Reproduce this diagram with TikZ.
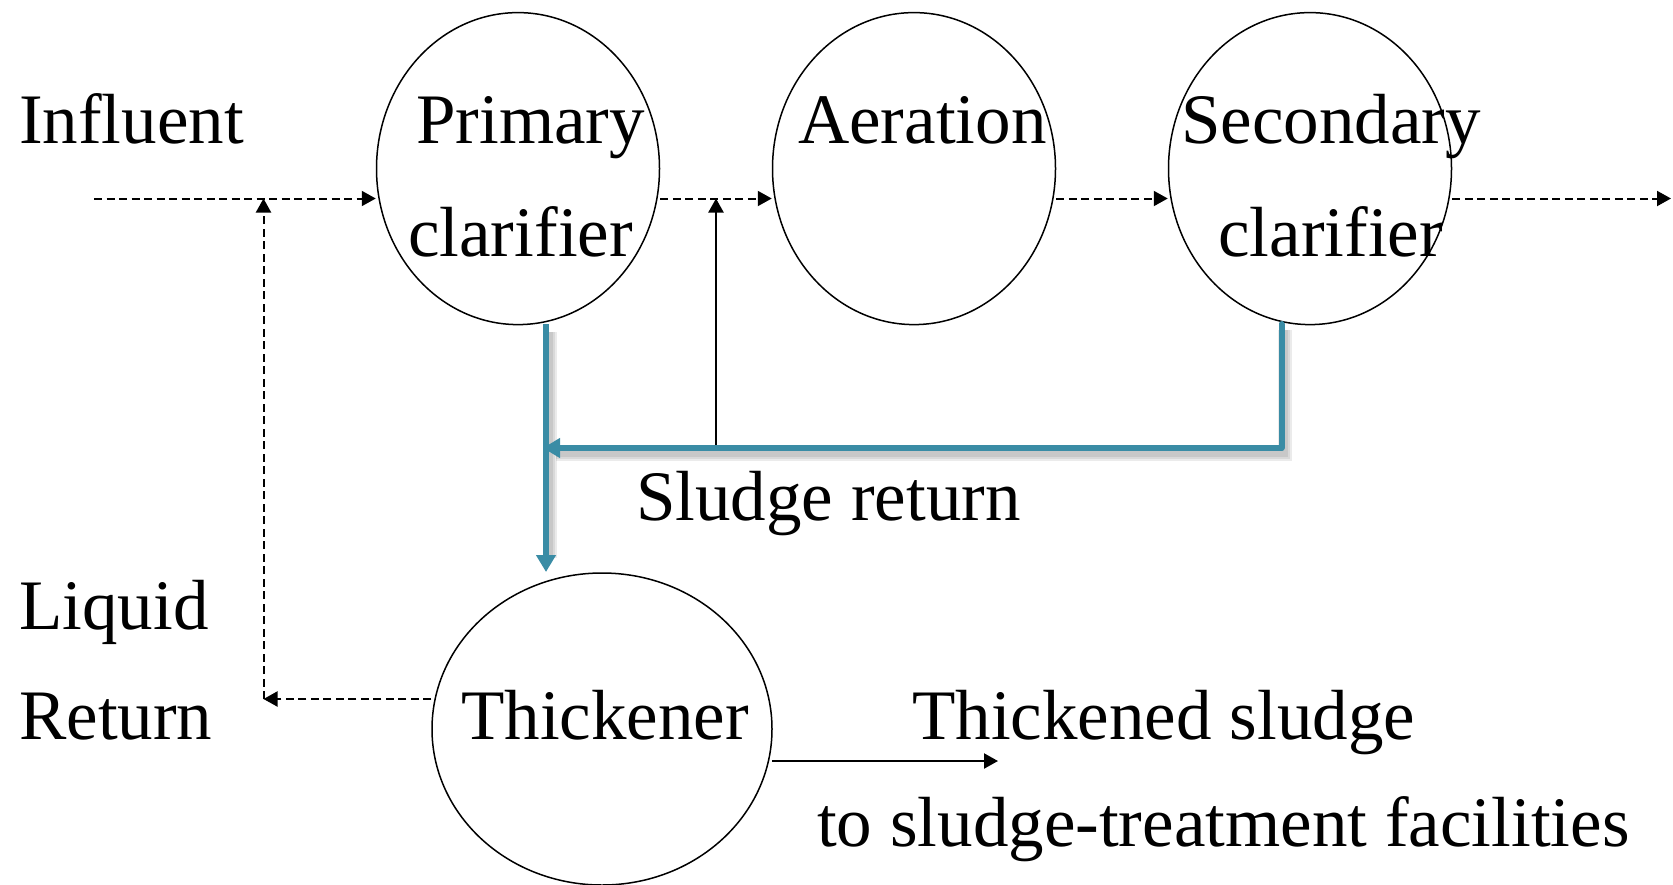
\documentclass[tikz,border=0pt]{standalone}
\usepackage{fontspec}
\setmainfont{Liberation Serif}
\usetikzlibrary{shapes.geometric,arrows.meta}
\definecolor{sludgeblue}{RGB}{58,140,165}
\tikzset{
  unit/.style={draw=black, line width=1.5pt, ellipse, inner sep=0pt},
  lbl/.style={anchor=base west, inner sep=0pt, font=\fontsize{71}{85}\selectfont},
  tip/.style={-{Triangle[length=14pt,width=15pt]}},
  flow/.style={tip, line width=2pt, dash pattern=on 8pt off 4.5pt},
  solidflow/.style={tip, line width=2.2pt},
  blueline/.style={draw=sludgeblue, line width=6pt},
  bluetip/.style={-{Triangle[length=17pt,width=19pt]}},
  blueshadow/.style={draw=black, line width=9pt, opacity=0.08}
}
\begin{document}
\begin{tikzpicture}[x=1pt,y=-1pt]
\useasboundingbox (0,0) rectangle (1673,884);
% units
\node[unit, minimum width=283pt, minimum height=312pt] (prim) at (518,168.6) {};
\node[unit, minimum width=283pt, minimum height=312pt] (aer) at (914,168.6) {};
\node[unit, minimum width=283pt, minimum height=312pt] (sec) at (1310,168.6) {};
\node[unit, minimum width=340pt, minimum height=312pt] (thk) at (602,729) {};
% coordinates
\coordinate (inf) at (94,198.5);
\coordinate (lrtop) at (263.5,198.5);
\coordinate (lrcorner) at (263.5,699);
\coordinate (sartop) at (716,198.5);
\coordinate (sarbot) at (716,448);
\coordinate (pbot) at (546,324);
\coordinate (tktop) at (546,572);
\coordinate (sbot) at (1281.5,324);
\coordinate (scorner) at (1281.5,448);
\coordinate (jn) at (546,448);
\coordinate (outend) at (1671,198.5);
\coordinate (tsstart) at (772,761);
\coordinate (tsend) at (998,761);
% main flow
\draw[flow] (inf) -- (inf -| prim.west);
\draw[flow] (inf -| prim.east) -- (inf -| aer.west);
\draw[flow] (inf -| aer.east) -- (inf -| sec.west);
\draw[flow] (inf -| sec.east) -- (outend);
% liquid return
\draw[flow] (lrcorner -| thk.west) -- (lrcorner);
\draw[flow] (lrcorner) -- (lrtop);
% sludge return to aeration
\draw[solidflow] (sarbot) -- (sartop);
% blue sludge lines with soft shadow
\foreach \w in {14,10,6}{
  \draw[blueshadow, line width=\w pt] ([shift={(3,6)}]sbot) -- ([shift={(3,6)}]scorner) -- ([shift={(10,6)}]jn);
  \draw[blueshadow, line width=\w pt] ([shift={(4,8)}]pbot) -- ([shift={(4,-14)}]tktop);
}
\draw[blueline, line cap=round] (sbot) -- (scorner);
\draw[blueline, bluetip] (scorner) -- ([xshift=-3pt]jn);
\draw[blueline, bluetip] (pbot) -- (tktop);
% thickened sludge out
\draw[solidflow] (tsstart) -- (tsend);
% labels
\node[lbl] (tinf) at (19,143) {Influent};
\node[lbl] (tprim1) at (416,143) {Primary};
\node[lbl] (tprim2) at (408,256) {clarifier};
\node[lbl] (taer) at (798,143) {Aeration};
\node[lbl] (tsec1) at (1181,143) {Secondary};
\node[lbl] (tsec2) at (1218,256) {clarifier};
\node[lbl] (tsr) at (636,520) {Sludge return};
\node[lbl] (tliq) at (19,629) {Liquid};
\node[lbl] (tret) at (19,739) {Return};
\node[lbl] (tthk) at (461,739) {Thickener};
\node[lbl] (tts1) at (912,739) {Thickened sludge};
\node[lbl] (tts2) at (817,846) {to sludge-treatment facilities};
\end{tikzpicture}
\end{document}
